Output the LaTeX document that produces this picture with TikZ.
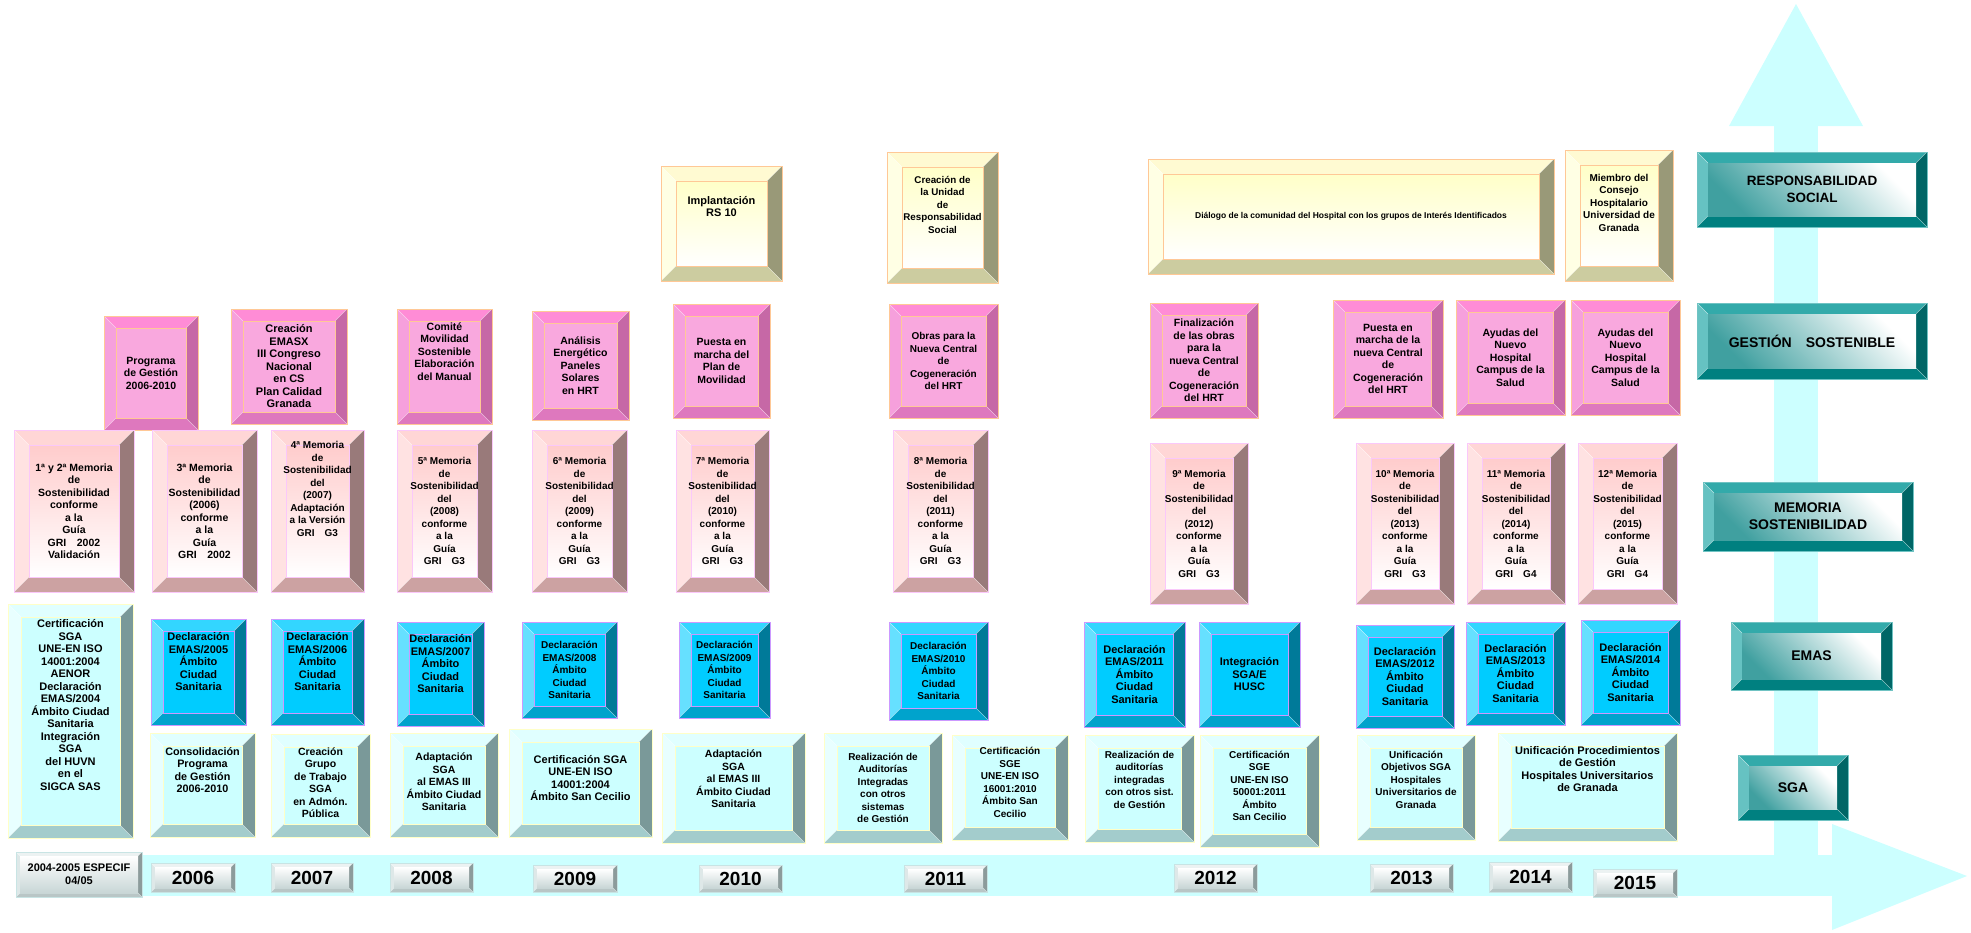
\documentclass[tikz,border=0pt]{standalone}
\usepackage{fontspec}
\setmainfont{Liberation Sans}
\usepackage{tikz}

\definecolor{band}{RGB}{204,255,255}
\definecolor{gsface}{RGB}{249,168,222}
\definecolor{gstop}{RGB}{255,140,214}
\definecolor{gsleft}{RGB}{246,160,220}
\definecolor{gsright}{RGB}{198,104,166}
\definecolor{gsbot}{RGB}{222,120,190}
\definecolor{gsline}{RGB}{255,200,150}
\definecolor{rsface}{RGB}{255,255,200}
\definecolor{rstop}{RGB}{255,250,210}
\definecolor{rsleft}{RGB}{255,255,228}
\definecolor{rsright}{RGB}{153,153,120}
\definecolor{rsbot}{RGB}{204,204,160}
\definecolor{rsline}{RGB}{255,200,150}
\definecolor{msface}{RGB}{255,204,204}
\definecolor{mstop}{RGB}{255,214,214}
\definecolor{msleft}{RGB}{255,226,226}
\definecolor{msright}{RGB}{153,122,122}
\definecolor{msbot}{RGB}{204,162,162}
\definecolor{msline}{RGB}{250,200,250}
\definecolor{emface}{RGB}{0,204,255}
\definecolor{emtop}{RGB}{51,214,255}
\definecolor{emleft}{RGB}{102,224,255}
\definecolor{emright}{RGB}{0,122,153}
\definecolor{embot}{RGB}{0,163,204}
\definecolor{emline}{RGB}{204,153,255}
\definecolor{sgface}{RGB}{204,255,255}
\definecolor{sgtop}{RGB}{224,255,255}
\definecolor{sgleft}{RGB}{232,255,255}
\definecolor{sgright}{RGB}{122,153,153}
\definecolor{sgbot}{RGB}{163,204,204}
\definecolor{sgline}{RGB}{255,255,200}
\definecolor{lbface}{RGB}{0,128,128}
\definecolor{lbtop}{RGB}{51,170,170}
\definecolor{lbleft}{RGB}{102,194,194}
\definecolor{lbright}{RGB}{0,102,102}
\definecolor{lbbot}{RGB}{0,128,128}
\definecolor{yrface}{RGB}{200,214,214}
\definecolor{yrtop}{RGB}{236,242,242}
\definecolor{yrleft}{RGB}{222,232,232}
\definecolor{yrright}{RGB}{140,155,155}
\definecolor{yrbot}{RGB}{185,198,198}
\definecolor{yrline}{RGB}{200,228,228}

% width, top, left, right, bottom, face, inner line
\newcommand\bevel[7]{%
  \coordinate (bnw) at (path picture bounding box.north west);
  \coordinate (bne) at (path picture bounding box.north east);
  \coordinate (bsw) at (path picture bounding box.south west);
  \coordinate (bse) at (path picture bounding box.south east);
  \coordinate (inw) at ([shift={(#1,-#1)}]bnw);
  \coordinate (ine) at ([shift={(-#1,-#1)}]bne);
  \coordinate (isw) at ([shift={(#1,#1)}]bsw);
  \coordinate (ise) at ([shift={(-#1,#1)}]bse);
  \fill[#2] (bnw) -- (bne) -- (ine) -- (inw) -- cycle;
  \fill[#3] (bnw) -- (inw) -- (isw) -- (bsw) -- cycle;
  \fill[#4] (bne) -- (bse) -- (ise) -- (ine) -- cycle;
  \fill[#5] (bsw) -- (isw) -- (ise) -- (bse) -- cycle;
  \draw[white, opacity=0.45, line width=0.6pt] (bnw) -- (inw) (bne) -- (ine) (bsw) -- (isw) (bse) -- (ise);
  \path[#6] (inw) rectangle (ise);
  \path[#7] (inw) rectangle (ise);
}

\tikzset{
  box/.style={inner sep=0pt, outer sep=0pt, line width=0.9pt},
  gsbox/.style={box, draw=gsline, path picture={\bevel{12pt}{gstop}{gsleft}{gsright}{gsbot}{fill=gsface}{draw=gsline}}},
  rsbox/.style={box, draw=rsline, path picture={\bevel{15pt}{rstop}{rsleft}{rsright}{rsbot}{top color=rsface,bottom color=white}{draw=rsline}}},
  msbox/.style={box, draw=msline, path picture={\bevel{15pt}{mstop}{msleft}{msright}{msbot}{top color=msface,bottom color=white}{draw=msline}}},
  embox/.style={box, draw=emline, path picture={\bevel{12pt}{emtop}{emleft}{emright}{embot}{fill=emface}{draw=emline}}},
  sgbox/.style={box, draw=sgline, path picture={\bevel{13pt}{sgtop}{sgleft}{sgright}{sgbot}{fill=sgface}{draw=sgline}}},
  lblbox/.style={box, draw=lbtop!70, align=center, font=\fontsize{14}{17}\selectfont\bfseries,
    path picture={\bevel{11pt}{lbtop}{lbleft}{lbright}{lbbot}{top color=white,bottom color=lbface!75,shading angle=-45}{draw=none}}},
  yrbox/.style={box, draw=yrline, align=center, font=\fontsize{19}{20}\selectfont\bfseries,
    path picture={\bevel{4pt}{yrtop}{yrleft}{yrright}{yrbot}{top color=white,bottom color=yrface}{draw=none}}},
  txt/.style={font=\fontsize{#1}{12.5}\selectfont\bfseries, align=center, inner sep=0pt, text=black},
  txt/.default=10.5
}

\begin{document}
\begin{tikzpicture}[x=1pt,y=-1pt]
\useasboundingbox (0,0) rectangle (1971,932);
% the two axes
\fill[band] (16,855) rectangle (1832,896);
\fill[band] (1832,824) -- (1967,876) -- (1832,930) -- cycle;
\fill[band] (1774,896) rectangle (1818,126);
\fill[band] (1729,126) -- (1796,4) -- (1863,126) -- cycle;

% responsabilidad social
\node[rsbox, minimum width=121pt, minimum height=115pt, label={[txt=11,yshift=17pt]center:{Implantación\\RS 10}}] (rs10) at (721.5,223.5) {};
\node[rsbox, minimum width=111pt, minimum height=131pt, label={[txt=9.8,yshift=13pt]center:{Creación de\\la Unidad\\de\\Responsabilidad\\Social}}] (rs11) at (942.5,217.5) {};
\node[rsbox, minimum width=406pt, minimum height=115pt, label={[txt=8.5]center:{Diálogo de la comunidad del Hospital con los grupos de Interés Identificados}}] (rs12) at (1351,216.5) {};
\node[rsbox, minimum width=108pt, minimum height=131pt, label={[txt=10,yshift=13pt]center:{Miembro del\\Consejo\\Hospitalario\\Universidad de\\Granada}}] (rs15) at (1619,215.5) {};

% gestion sostenible
\node[gsbox, minimum width=94pt, minimum height=114pt, label={[txt]center:{Programa\\de Gestión\\2006-2010}}] (gs06) at (151,373) {};
\node[gsbox, minimum width=116pt, minimum height=115pt, label={[txt=11]center:{Creación\\EMASX\\III Congreso\\Nacional\\en CS\\Plan Calidad\\Granada}}] (gs07) at (289,366.5) {};
\node[gsbox, minimum width=95pt, minimum height=115pt, label={[txt,yshift=15pt]center:{Comité\\Movilidad\\Sostenible\\Elaboración\\del Manual}}] (gs08) at (444.5,366.5) {};
\node[gsbox, minimum width=97pt, minimum height=109pt, label={[txt]center:{Análisis\\Energético\\Paneles\\Solares\\en HRT}}] (gs09) at (580.5,365.5) {};
\node[gsbox, minimum width=97pt, minimum height=114pt, label={[txt]center:{Puesta en\\marcha del\\Plan de\\Movilidad}}] (gs10) at (721.5,361) {};
\node[gsbox, minimum width=109pt, minimum height=114pt, label={[txt=10]center:{Obras para la\\Nueva Central\\de\\Cogeneración\\del HRT}}] (gs11) at (943.5,361) {};
\node[gsbox, minimum width=108pt, minimum height=115pt, label={[txt=10.5]center:{Finalización\\de las obras\\para la\\nueva Central\\de\\Cogeneración\\del HRT}}] (gs12) at (1204,360.5) {};
\node[gsbox, minimum width=110pt, minimum height=118pt, label={[txt=10.5]center:{Puesta en\\marcha de la\\nueva Central\\de\\Cogeneración\\del HRT}}] (gs13) at (1388,359) {};
\node[gsbox, minimum width=109pt, minimum height=115pt, label={[txt=10.5]center:{Ayudas del\\Nuevo\\Hospital\\Campus de la\\Salud}}] (gs14) at (1510.5,357.5) {};
\node[gsbox, minimum width=109pt, minimum height=115pt, label={[txt=10.5]center:{Ayudas del\\Nuevo\\Hospital\\Campus de la\\Salud}}] (gs15) at (1625.5,357.5) {};

% memoria sostenibilidad
\node[msbox, minimum width=120pt, minimum height=162pt, label={[txt]center:{1ª y 2ª Memoria\\de\\Sostenibilidad\\conforme\\a la\\Guía\\GRI\quad 2002\\Validación}}] (ms05) at (74,511) {};
\node[msbox, minimum width=105pt, minimum height=162pt, label={[txt]center:{3ª Memoria\\de\\Sostenibilidad\\(2006)\\conforme\\a la\\Guía\\GRI\quad 2002}}] (ms06) at (204.5,511) {};
\node[msbox, minimum width=93pt, minimum height=162pt, label={[txt=10,yshift=22pt]center:{4ª Memoria\\de\\Sostenibilidad\\del\\(2007)\\Adaptación\\a la Versión\\GRI\quad G3}}] (ms07) at (317.5,511) {};
\node[msbox, minimum width=95pt, minimum height=162pt, label={[txt=10]center:{5ª Memoria\\de\\Sostenibilidad\\del\\(2008)\\conforme\\a la\\Guía\\GRI\quad G3}}] (ms08) at (444.5,511) {};
\node[msbox, minimum width=95pt, minimum height=162pt, label={[txt=10]center:{6ª Memoria\\de\\Sostenibilidad\\del\\(2009)\\conforme\\a la\\Guía\\GRI\quad G3}}] (ms09) at (579.5,511) {};
\node[msbox, minimum width=93pt, minimum height=162pt, label={[txt=10]center:{7ª Memoria\\de\\Sostenibilidad\\del\\(2010)\\conforme\\a la\\Guía\\GRI\quad G3}}] (ms10) at (722.5,511) {};
\node[msbox, minimum width=95pt, minimum height=162pt, label={[txt=10]center:{8ª Memoria\\de\\Sostenibilidad\\del\\(2011)\\conforme\\a la\\Guía\\GRI\quad G3}}] (ms11) at (940.5,511) {};
\node[msbox, minimum width=98pt, minimum height=161pt, label={[txt=10]center:{9ª Memoria\\de\\Sostenibilidad\\del\\(2012)\\conforme\\a la\\Guía\\GRI\quad G3}}] (ms12) at (1199,523.5) {};
\node[msbox, minimum width=98pt, minimum height=161pt, label={[txt=10]center:{10ª Memoria\\de\\Sostenibilidad\\del\\(2013)\\conforme\\a la\\Guía\\GRI\quad G3}}] (ms13) at (1405,523.5) {};
\node[msbox, minimum width=98pt, minimum height=161pt, label={[txt=10]center:{11ª Memoria\\de\\Sostenibilidad\\del\\(2014)\\conforme\\a la\\Guía\\GRI\quad G4}}] (ms14) at (1516,523.5) {};
\node[msbox, minimum width=99pt, minimum height=161pt, label={[txt=10]center:{12ª Memoria\\de\\Sostenibilidad\\del\\(2015)\\conforme\\a la\\Guía\\GRI\quad G4}}] (ms15) at (1627.5,523.5) {};

% emas
\node[embox, minimum width=95pt, minimum height=106pt, label={[txt=11,yshift=10pt]center:{Declaración\\EMAS/2005\\Ámbito\\Ciudad\\Sanitaria}}] (em06) at (198.5,672) {};
\node[embox, minimum width=93pt, minimum height=106pt, label={[txt=11,yshift=10pt]center:{Declaración\\EMAS/2006\\Ámbito\\Ciudad\\Sanitaria}}] (em07) at (317.5,672) {};
\node[embox, minimum width=87pt, minimum height=104pt, label={[txt=11,yshift=10pt]center:{Declaración\\EMAS/2007\\Ámbito\\Ciudad\\Sanitaria}}] (em08) at (440.5,674) {};
\node[embox, minimum width=95pt, minimum height=96pt, label={[txt=10]center:{Declaración\\EMAS/2008\\Ámbito\\Ciudad\\Sanitaria}}] (em09) at (569.5,670) {};
\node[embox, minimum width=91pt, minimum height=96pt, label={[txt=10]center:{Declaración\\EMAS/2009\\Ámbito\\Ciudad\\Sanitaria}}] (em10) at (724.5,670) {};
\node[embox, minimum width=99pt, minimum height=98pt, label={[txt=10]center:{Declaración\\EMAS/2010\\Ámbito\\Ciudad\\Sanitaria}}] (em11) at (938.5,671) {};
\node[embox, minimum width=101pt, minimum height=105pt, label={[txt=11]center:{Declaración\\EMAS/2011\\Ámbito\\Ciudad\\Sanitaria}}] (em12) at (1134.5,674.5) {};
\node[embox, minimum width=101pt, minimum height=105pt, label={[txt=11]center:{Integración\\SGA/E\\HUSC}}] (em12b) at (1249.5,674.5) {};
\node[embox, minimum width=98pt, minimum height=103pt, label={[txt=11]center:{Declaración\\EMAS/2012\\Ámbito\\Ciudad\\Sanitaria}}] (em13) at (1405,676.5) {};
\node[embox, minimum width=99pt, minimum height=103pt, label={[txt=11]center:{Declaración\\EMAS/2013\\Ámbito\\Ciudad\\Sanitaria}}] (em14) at (1515.5,673.5) {};
\node[embox, minimum width=99pt, minimum height=105pt, label={[txt=11]center:{Declaración\\EMAS/2014\\Ámbito\\Ciudad\\Sanitaria}}] (em15) at (1630.5,672.5) {};

% sga
\node[sgbox, minimum width=125pt, minimum height=234pt, label={[txt=11,yshift=16pt]center:{Certificación\\SGA\\UNE-EN ISO\\14001:2004\\AENOR\\Declaración\\EMAS/2004\\Ámbito Ciudad\\Sanitaria\\Integración\\SGA\\del HUVN\\en el\\SIGCA SAS}}] (sg05) at (70.5,721) {};
\node[sgbox, minimum width=105pt, minimum height=104pt, label={[txt=10.8,yshift=15pt]center:{Consolidación\\Programa\\de Gestión\\2006-2010}}] (sg06) at (202.5,785) {};
\node[sgbox, minimum width=99pt, minimum height=103pt, label={[txt,yshift=3pt]center:{Creación\\Grupo\\de Trabajo\\SGA\\en Admón.\\Pública}}] (sg07) at (320.5,785.5) {};
\node[sgbox, minimum width=108pt, minimum height=104pt, label={[txt,yshift=3pt]center:{Adaptación\\SGA\\al EMAS III\\Ámbito Ciudad\\Sanitaria}}] (sg08) at (444,785) {};
\node[sgbox, minimum width=143pt, minimum height=108pt, label={[txt=11,yshift=5pt]center:{Certificación SGA\\UNE-EN ISO\\14001:2004\\Ámbito San Cecilio}}] (sg09) at (580.5,783) {};
\node[sgbox, minimum width=143pt, minimum height=110pt, label={[txt,yshift=9pt]center:{Adaptación\\SGA\\al EMAS III\\Ámbito Ciudad\\Sanitaria}}] (sg10) at (733.5,788) {};
\node[sgbox, minimum width=118pt, minimum height=110pt, label={[txt=10]center:{Realización de\\Auditorías\\Integradas\\con otros\\sistemas\\de Gestión}}] (sg11) at (883,788) {};
\node[sgbox, minimum width=116pt, minimum height=105pt, label={[txt=10,yshift=5pt]center:{Certificación\\SGE\\UNE-EN ISO\\16001:2010\\Ámbito San\\Cecilio}}] (sg11b) at (1010,787.5) {};
\node[sgbox, minimum width=109pt, minimum height=107pt, label={[txt=10,yshift=9pt]center:{Realización de\\auditorías\\integradas\\con otros sist.\\de Gestión}}] (sg12) at (1139.5,788.5) {};
\node[sgbox, minimum width=119pt, minimum height=112pt, label={[txt=10,yshift=5pt]center:{Certificación\\SGE\\UNE-EN ISO\\50001:2011\\Ámbito\\San Cecilio}}] (sg12b) at (1259.5,791) {};
\node[sgbox, minimum width=118pt, minimum height=105pt, label={[txt=10,yshift=8pt]center:{Unificación\\Objetivos SGA\\Hospitales\\Universitarios de\\Granada}}] (sg13) at (1416,787.5) {};
\node[sgbox, minimum width=179pt, minimum height=108pt, label={[txt=11,yshift=18pt]center:{Unificación Procedimientos\\de Gestión\\Hospitales Universitarios\\de Granada}}] (sg14) at (1587.5,787) {};

% years
\node[yrbox, minimum width=126pt, minimum height=45pt, font=\fontsize{11}{13}\selectfont\bfseries] (yr05) at (79,874.5) {2004-2005 ESPECIF\\04/05};
\node[yrbox, minimum width=84pt, minimum height=29pt] (yr06) at (193,877.5) {2006};
\node[yrbox, minimum width=82pt, minimum height=29pt] (yr07) at (312,877.5) {2007};
\node[yrbox, minimum width=83pt, minimum height=29pt] (yr08) at (431.5,877.5) {2008};
\node[yrbox, minimum width=84pt, minimum height=27pt] (yr09) at (575,878.5) {2009};
\node[yrbox, minimum width=83pt, minimum height=27pt] (yr10) at (740.5,878.5) {2010};
\node[yrbox, minimum width=83pt, minimum height=27pt] (yr11) at (945.5,878.5) {2011};
\node[yrbox, minimum width=83pt, minimum height=28pt] (yr12) at (1215.5,878) {2012};
\node[yrbox, minimum width=83pt, minimum height=28pt] (yr13) at (1411.5,878) {2013};
\node[yrbox, minimum width=83pt, minimum height=30pt] (yr14) at (1530.5,877) {2014};
\node[yrbox, minimum width=84pt, minimum height=28pt] (yr15) at (1635,883) {2015};

% levels
\node[lblbox, minimum width=230pt, minimum height=75pt, font=\fontsize{13.5}{17}\selectfont\bfseries] (lbrs) at (1812,189.5) {RESPONSABILIDAD\\SOCIAL};
\node[lblbox, minimum width=230pt, minimum height=76pt] (lbgs) at (1812,341) {GESTIÓN\quad SOSTENIBLE};
\node[lblbox, minimum width=210pt, minimum height=69pt] (lbms) at (1808,516.5) {MEMORIA\\SOSTENIBILIDAD};
\node[lblbox, minimum width=161pt, minimum height=68pt] (lbem) at (1811.5,656) {EMAS};
\node[lblbox, minimum width=110pt, minimum height=65pt] (lbsg) at (1793,787.5) {SGA};
\end{tikzpicture}
\end{document}
